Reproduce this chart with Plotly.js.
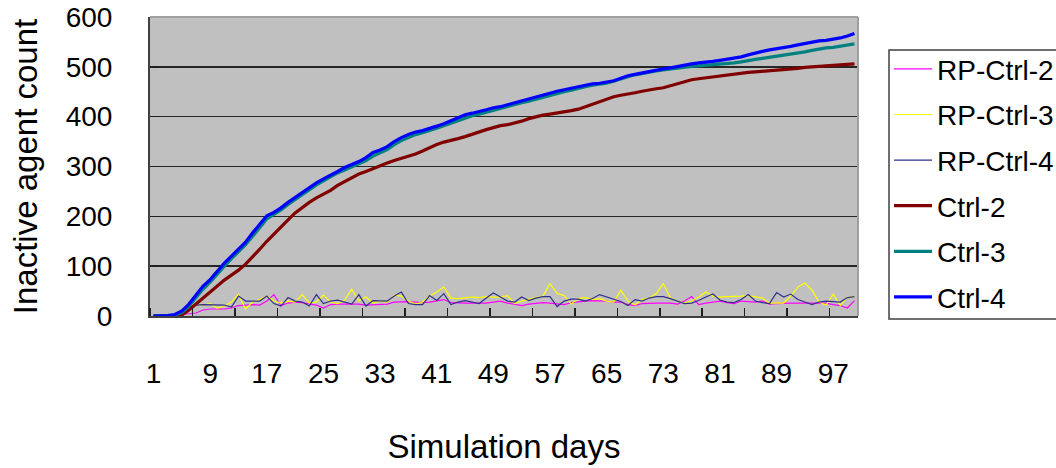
<!DOCTYPE html>
<html>
<head>
<meta charset="utf-8">
<script src="https://cdn.plot.ly/plotly-3.0.1.min.js"></script>
<style>
  html, body { margin: 0; padding: 0; background: #ffffff; }
  #chart { width: 1056px; height: 468px; }
</style>
</head>
<body>
<div id="chart"></div>
<script>
// Simulation day index (category axis)
const days = [
  1,2,3,4,5,6,7,8,9,10, 11,12,13,14,15,16,17,18,19,20,
  21,22,23,24,25,26,27,28,29,30, 31,32,33,34,35,36,37,38,39,40,
  41,42,43,44,45,46,47,48,49,50, 51,52,53,54,55,56,57,58,59,60,
  61,62,63,64,65,66,67,68,69,70, 71,72,73,74,75,76,77,78,79,80,
  81,82,83,84,85,86,87,88,89,90, 91,92,93,94,95,96,97,98,99,100
];

// Labelled days on the category axis
const dayLabels = [1, 9, 17, 25, 33, 41, 49, 57, 65, 73, 81, 89, 97];

// Inactive agent counts per day
const rpCtrl2 = [
  0,0,0,1,3,5,6,12,14,14, 14,16,21,22,23,22,30,43,21,26,
  28,27,24,22,16,23,24,24,24,24, 22,23,24,24,28,29,29,28,27,28,
  30,33,27,26,26,26,26,26,28,30, 26,23,21,24,26,27,26,25,23,27,
  29,30,31,31,30,28,28,23,21,25, 26,26,26,26,24,30,39,23,26,28,
  30,27,25,30,29,28,30,24,25,26, 26,26,26,26,26,26,23,21,16,31
];
const rpCtrl3 = [
  0,0,1,3,10,20,24,22,25,16, 20,28,43,14,28,33,40,30,26,30,
  28,43,26,28,42,28,25,32,54,30, 38,26,30,28,42,40,30,24,28,40,
  48,58,36,35,37,38,37,39,38,38, 41,25,30,34,37,40,65,45,41,24,
  35,37,33,35,30,28,52,30,22,33, 36,45,65,36,30,26,30,38,48,40,
  38,39,39,40,41,39,36,26,26,26, 40,58,66,52,28,22,44,21,38,39
];
const rpCtrl4 = [
  0,0,1,2,8,18,22,23,23,23, 22,18,40,30,30,30,40,25,20,37,
  30,28,20,43,25,30,32,28,24,43, 20,31,30,30,40,48,25,23,23,41,
  31,45,23,28,31,28,25,36,46,38, 30,28,38,31,36,39,39,19,30,34,
  34,30,35,43,38,33,29,21,33,30, 36,39,39,35,30,25,26,31,38,44,
  32,28,27,33,43,30,27,25,47,38, 44,33,28,23,28,30,29,28,37,39
];
const ctrl2 = [
  0,0,0,1,2,12,24,36,48,62, 72,82,92,104,118,134,150,165,180,193,
  207,218,228,237,244,252,262,270,278,285, 290,296,301,307,312,316,320,325,331,338,
  344,349,352,356,360,365,370,374,378,382, 384,387,391,396,400,403,405,407,409,412,
  415,420,425,430,436,440,443,445,448,451, 454,456,458,462,467,471,474,476,478,480,
  482,484,486,488,489,490,491,493,494,495, 496,497,499,500,501,502,503,504,505,506
];
const ctrl3 = [
  0,0,1,2,7,20,37,54,68,85, 100,115,129,143,160,178,195,204,213,224,
  234,244,254,263,271,279,287,293,299,305, 312,321,327,334,344,352,358,364,368,372,
  377,382,387,393,398,402,405,409,413,416, 420,424,428,431,435,439,443,447,450,453,
  457,460,463,465,467,471,476,480,484,487, 489,492,494,496,498,500,501,502,503,505,
  506,507,508,510,513,515,517,519,521,523, 526,528,530,533,536,538,539,541,543,546
];
const ctrl4 = [
  0,0,1,3,10,24,42,60,73,90, 106,120,134,148,167,185,201,208,217,228,
  238,248,257,267,275,282,290,298,304,310, 318,328,333,340,350,358,364,369,372,376,
  381,386,392,398,404,407,410,414,418,420, 424,428,432,436,440,444,447,451,454,457,
  461,464,466,467,469,472,477,482,485,488, 491,494,496,498,501,504,506,508,509,511,
  513,515,517,520,524,528,531,534,536,539, 541,544,547,550,552,553,555,558,562,567
];

const seriesNames = ['RP-Ctrl-2', 'RP-Ctrl-3', 'RP-Ctrl-4', 'Ctrl-2', 'Ctrl-3', 'Ctrl-4'];
const seriesValues = [rpCtrl2, rpCtrl3, rpCtrl4, ctrl2, ctrl3, ctrl4];
const seriesColors = ['#ff00ff', '#ffff00', '#30308c', '#800000', '#008080', '#0000ff'];
const seriesWidths = [1.2, 1.2, 1.2, 3.2, 3.2, 3.2];

const FONT = 'Liberation Sans, Arial, sans-serif';

const traces = seriesNames.map((name, i) => ({
  type: 'scatter',
  mode: 'lines',
  name: name,
  legendgroup: name,
  x: days,
  y: seriesValues[i],
  line: { color: seriesColors[i], width: seriesWidths[i] },
  hoverinfo: 'x+y+name'
}));

const layout = {
  width: 1056,
  height: 468,
  margin: { l: 150, r: 198, t: 17, b: 152, autoexpand: false },
  paper_bgcolor: '#ffffff',
  plot_bgcolor: '#c0c0c0',
  font: { family: FONT, size: 28, color: '#000000' },
  showlegend: true,
  legend: {
    x: 1.0438, xanchor: 'left',
    y: 0.909, yanchor: 'top',
    bgcolor: 'rgba(0,0,0,0)',
    borderwidth: 0,
    font: { family: FONT, size: 28, color: '#000000' },
    itemwidth: 38,
    tracegroupgap: 6.2,
    traceorder: 'grouped'
  },
  xaxis: {
    range: [0.5, 100.5],
    tickmode: 'array',
    tickvals: dayLabels,
    ticktext: dayLabels.map(String),
    ticks: '',
    ticklabelstandoff: 31,
    tickfont: { family: FONT, size: 28, color: '#000000' },
    showgrid: false,
    zeroline: false,
    showline: true,
    linecolor: '#404040',
    linewidth: 2,
    minor: { tick0: 0.5, dtick: 6, ticks: 'inside', ticklen: 8, tickwidth: 1.5, tickcolor: '#202020', showgrid: false },
    title: { text: 'Simulation days', font: { family: FONT, size: 33, color: '#000000' }, standoff: 47 },
    fixedrange: true
  },
  yaxis: {
    range: [0, 600],
    tickmode: 'linear',
    tick0: 0,
    dtick: 100,
    ticks: 'inside',
    ticklen: 9,
    tickwidth: 1.5,
    tickcolor: '#202020',
    ticklabelstandoff: 30,
    tickfont: { family: FONT, size: 28, color: '#000000' },
    showgrid: true,
    gridcolor: '#262626',
    gridwidth: 1.6,
    zeroline: false,
    showline: true,
    linecolor: '#404040',
    linewidth: 2,
    title: { text: 'Inactive agent count', font: { family: FONT, size: 33, color: '#000000' }, standoff: 18 },
    fixedrange: true
  },
  shapes: [
    // legend frame, running off the right edge of the figure
    { type: 'rect', xref: 'paper', yref: 'paper', x0: 1.0438, x1: 1.35, y0: -0.010, y1: 0.8896,
      fillcolor: '#ffffff', line: { color: '#404040', width: 1.5 }, layer: 'below' },
    // light frame on the top and right edges of the plot area
    { type: 'line', xref: 'paper', yref: 'paper', x0: 0, x1: 1, y0: 1, y1: 1, line: { color: '#a0a0a0', width: 2 }, layer: 'above' },
    { type: 'line', xref: 'paper', yref: 'paper', x0: 1, x1: 1, y0: 0, y1: 1, line: { color: '#a0a0a0', width: 2 }, layer: 'above' }
  ]
};

Plotly.newPlot('chart', traces, layout, { displayModeBar: false, staticPlot: true });
</script>
</body>
</html>
